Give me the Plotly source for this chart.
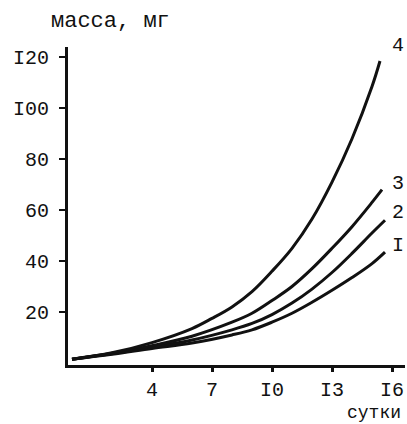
import plotly.graph_objects as go

days4 = [0, 2, 4, 6, 7, 8, 9, 10, 11, 12, 13, 14, 15, 15.4]
mass4 = [1.5, 4, 8, 13.5, 17.5, 22, 28, 36, 45, 56.5, 71, 88, 108.5, 118.5]
days3 = [0, 2, 4, 6, 8, 9, 10, 11, 12, 13, 14, 15, 15.5]
mass3 = [1.5, 3.8, 6.8, 10.5, 16, 19.5, 24.5, 30, 37, 45, 53.5, 63, 68]
days2 = [0, 2, 4, 6, 8, 9, 10, 11, 12, 13, 14, 15, 15.65]
mass2 = [1.5, 3.6, 6.2, 9, 13, 15.5, 19, 23.5, 29, 35.5, 43, 51, 56]
days1 = [0, 2, 4, 6, 8, 9, 10, 11, 12, 13, 14, 15, 15.65]
mass1 = [1.5, 3.4, 5.7, 7.8, 11, 13, 16, 19.5, 23.8, 28.5, 33.5, 39, 43.5]

curve_labels = ["I", "2", "3", "4"]
label_y = [46, 59, 70.5, 124.5]

x_ticks = [4, 7, 10, 13, 16]
x_tick_text = ["4", "7", "I0", "I3", "I6"]
y_ticks = [20, 40, 60, 80, 100, 120]
y_tick_text = ["20", "40", "60", "80", "I00", "I20"]

FONT = "Liberation Mono, Courier New, monospace"
INK = "#111111"

Y_RANGE = [-0.8, 124]
PLOT_TOP, PLOT_BOTTOM = 47, 365

fig = go.Figure()
for d, m in [(days1, mass1), (days2, mass2), (days3, mass3), (days4, mass4)]:
    fig.add_trace(go.Scatter(x=d, y=m, mode="lines",
                             line=dict(color=INK, width=3, shape="spline", smoothing=1.0),
                             showlegend=False, hoverinfo="skip"))

for lab, ly in zip(curve_labels, label_y):
    fy = (ly - Y_RANGE[0]) / (Y_RANGE[1] - Y_RANGE[0])
    fig.add_annotation(xref="x", yref="paper", x=16.3, y=fy, text=lab,
                       showarrow=False, yanchor="middle",
                       font=dict(family=FONT, size=20, color=INK))

fig.add_annotation(xref="paper", yref="paper", x=0.0, y=1.0, yshift=26, xshift=-19,
                   yanchor="middle", xanchor="left",
                   text="масса, мг", showarrow=False,
                   font=dict(family=FONT, size=22, color=INK))
fig.add_annotation(xref="paper", yref="paper", x=1.0, y=0, yshift=-48, xshift=-2,
                   yanchor="middle", xanchor="right",
                   text="сутки", showarrow=False,
                   font=dict(family=FONT, size=18, color=INK))

fig.update_layout(
    width=407, height=424,
    margin=dict(l=68, r=2, t=PLOT_TOP, b=424 - PLOT_BOTTOM),
    paper_bgcolor="white", plot_bgcolor="white",
    font=dict(family=FONT, size=20, color=INK),
)
fig.update_xaxes(range=[-0.2, 16.65], showgrid=False, zeroline=False,
                 showline=True, linecolor=INK, linewidth=3,
                 tickmode="array", tickvals=x_ticks, ticktext=x_tick_text,
                 ticks="outside", ticklen=4, tickwidth=3, tickcolor=INK,
                 tickfont=dict(family=FONT, size=20, color=INK))
fig.update_yaxes(range=Y_RANGE, showgrid=False, zeroline=False,
                 showline=True, linecolor=INK, linewidth=3,
                 tickmode="array", tickvals=y_ticks, ticktext=y_tick_text,
                 ticks="outside", ticklen=6, tickwidth=2, tickcolor=INK,
                 ticklabelstandoff=6,
                 tickfont=dict(family=FONT, size=20, color=INK))

fig.write_html("out.html")
